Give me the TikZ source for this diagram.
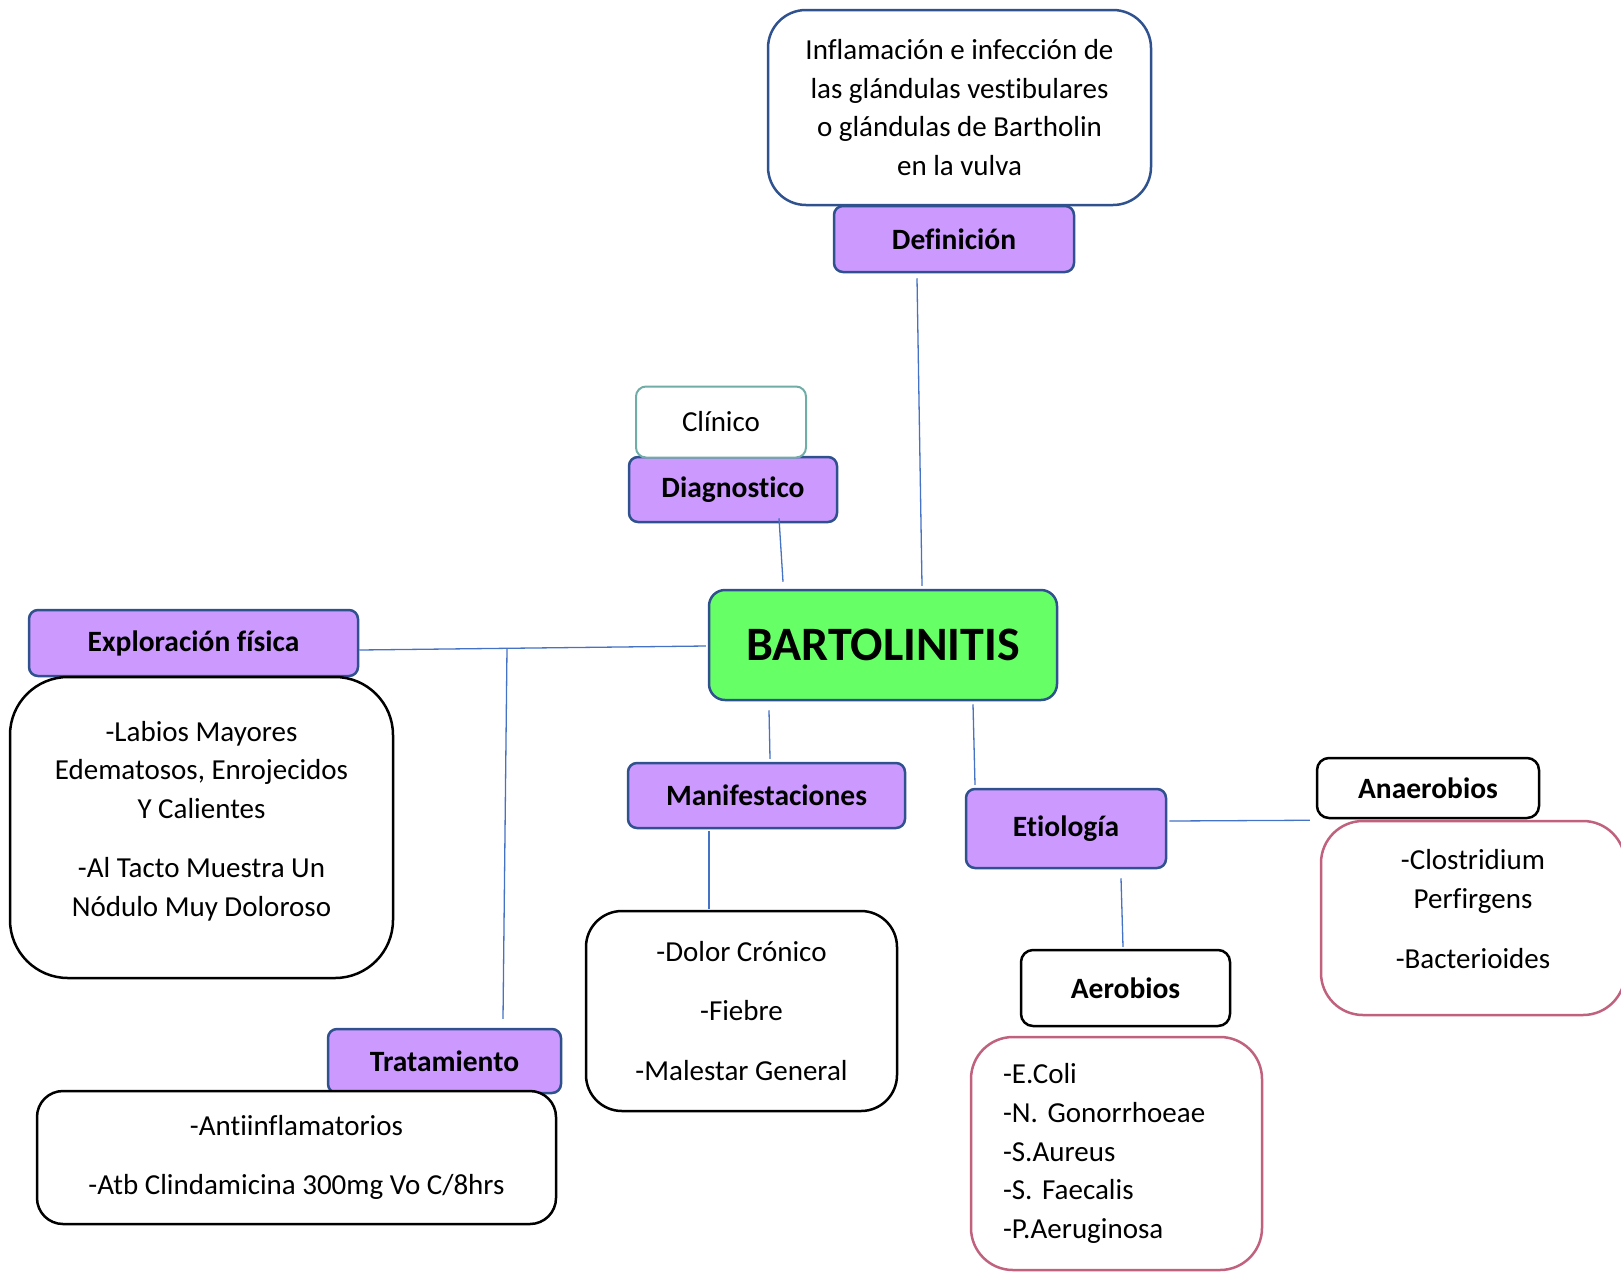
\documentclass[tikz,border=0pt]{standalone}
\usepackage{fontspec}
\setmainfont{Carlito}[Ligatures=CommonOff]
\usepackage{tikz}
\usetikzlibrary{positioning}

\definecolor{lila}{HTML}{CC99FF}
\definecolor{bordeazul}{HTML}{2F528F}
\definecolor{verde}{HTML}{66FF66}
\definecolor{linea}{HTML}{4472C4}
\definecolor{rosa}{HTML}{C0617E}
\definecolor{verdeazul}{HTML}{70ADA7}
\frenchspacing

\begin{document}
\begin{tikzpicture}[x=1pt,y=-1pt,
  titulo/.style={rectangle,rounded corners=9pt,draw=bordeazul,fill=lila,
    line width=2.5pt,inner sep=0pt,font=\bfseries\fontsize{29.5}{32}\selectfont},
  cuadro/.style={rectangle,draw=black,fill=white,line width=2.5pt,
    inner sep=0pt,align=center,font=\fontsize{29}{38.8}\selectfont},
  conector/.style={draw=linea,line width=1.3pt}]

  \useasboundingbox (0,0) rectangle (1621,1272);

  % definicion
  \node[cuadro,draw=bordeazul,rounded corners=38pt,minimum width=383pt,
    minimum height=195pt] (defbox) at (959.5,107.5)
    {Inflamación e infección de\\las glándulas vestibulares\\o glándulas de Bartholin\\en la vulva};
  \node[titulo,minimum width=240pt,minimum height=66pt] (deflab) at (954,239) {Definición};

  % diagnostico
  \node[titulo,minimum width=208pt,minimum height=65pt] (diag) at (733,489.5) {Diagnostico};
  \node[cuadro,draw=verdeazul,line width=2pt,rounded corners=10pt,minimum width=170pt,
    minimum height=71pt] (clin) at (721,422) {Clínico};

  % centro
  \node[titulo,fill=verde,rounded corners=16pt,minimum width=348pt,minimum height=110pt,
    font=\bfseries\fontsize{48}{52}\selectfont] (bart) at (883,645) {BARTOLINITIS};

  % exploracion
  \node[titulo,minimum width=329pt,minimum height=66pt] (exlab) at (193.5,643) {Exploración física};
  \node[cuadro,rounded corners=58pt,minimum width=383pt,minimum height=301pt] (exbox) at (201.5,827.5)
    {-Labios Mayores\\Edematosos, Enrojecidos\\Y Calientes\\[20pt]-Al Tacto Muestra Un\\Nódulo Muy Doloroso\\[-21pt]~};

  % tratamiento
  \node[titulo,minimum width=233pt,minimum height=64pt] (tralab) at (444.5,1061) {Tratamiento};
  \node[cuadro,rounded corners=26pt,minimum width=519pt,minimum height=133pt] (trabox) at (296.5,1157.5)
    {-Antiinflamatorios\\[21pt]-Atb Clindamicina 300mg Vo C/8hrs};

  % manifestaciones
  \node[titulo,minimum width=277pt,minimum height=65pt] (manlab) at (766.5,795.5) {Manifestaciones};
  \node[cuadro,rounded corners=36pt,minimum width=311pt,minimum height=200pt] (manbox) at (741.5,1011)
    {-Dolor Crónico\\[21pt]-Fiebre\\[21pt]-Malestar General};

  % etiologia
  \node[titulo,minimum width=200pt,minimum height=79pt] (etilab) at (1066,828.5) {Etiología};
  \node[cuadro,rounded corners=12pt,font=\bfseries\fontsize{29.5}{32}\selectfont,
    minimum width=222pt,minimum height=60pt] (anlab) at (1428,788) {Anaerobios};
  \node[cuadro,draw=rosa,rounded corners=42pt,minimum width=304pt,minimum height=194pt] (anbox) at (1473,918)
    {-Clostridium\\Perfirgens\\[21pt]-Bacterioides\\[-21pt]~};
  \node[cuadro,rounded corners=12pt,font=\bfseries\fontsize{29.5}{32}\selectfont,
    minimum width=209pt,minimum height=76pt] (aelab) at (1125.5,988) {Aerobios};
  \node[cuadro,draw=rosa,rounded corners=42pt,minimum width=291pt,minimum height=233pt,
    align=left,text width=227pt] (aebox) at (1116.5,1153.5)
    {-E.Coli\\-N. Gonorrhoeae\\-S.Aureus\\-S. Faecalis\\-P.Aeruginosa};

  % conectores
  \coordinate (cruce) at (507,648);
  \draw[conector] ([xshift=-37pt,yshift=-5pt]deflab.south) -- ([xshift=39pt,yshift=3pt]bart.north);
  \draw[conector] ([xshift=46pt,yshift=5pt]diag.south) -- ([xshift=-100pt,yshift=7pt]bart.north);
  \draw[conector] ([yshift=-7pt]exlab.east) -- ([xshift=-2pt,yshift=-1pt]bart.west);
  \draw[conector] (cruce) -- ([xshift=58.5pt,yshift=9pt]tralab.north);
  \draw[conector] ([xshift=-114pt,yshift=-9pt]bart.south) -- ([xshift=3.5pt,yshift=3pt]manlab.north);
  \draw[conector] ([xshift=-57.5pt,yshift=-2pt]manlab.south) -- ([xshift=-32.5pt,yshift=1pt]manbox.north);
  \draw[conector] ([xshift=90pt,yshift=-3pt]bart.south) -- ([xshift=-91pt,yshift=3pt]etilab.north);
  \draw[conector] ([xshift=2pt,yshift=7.5pt]etilab.east) -- ([xshift=-6pt,yshift=-1pt]anlab.south west);
  \draw[conector] ([xshift=55pt,yshift=-9pt]etilab.south) -- ([xshift=-2.5pt,yshift=2pt]aelab.north);

\end{tikzpicture}
\end{document}
